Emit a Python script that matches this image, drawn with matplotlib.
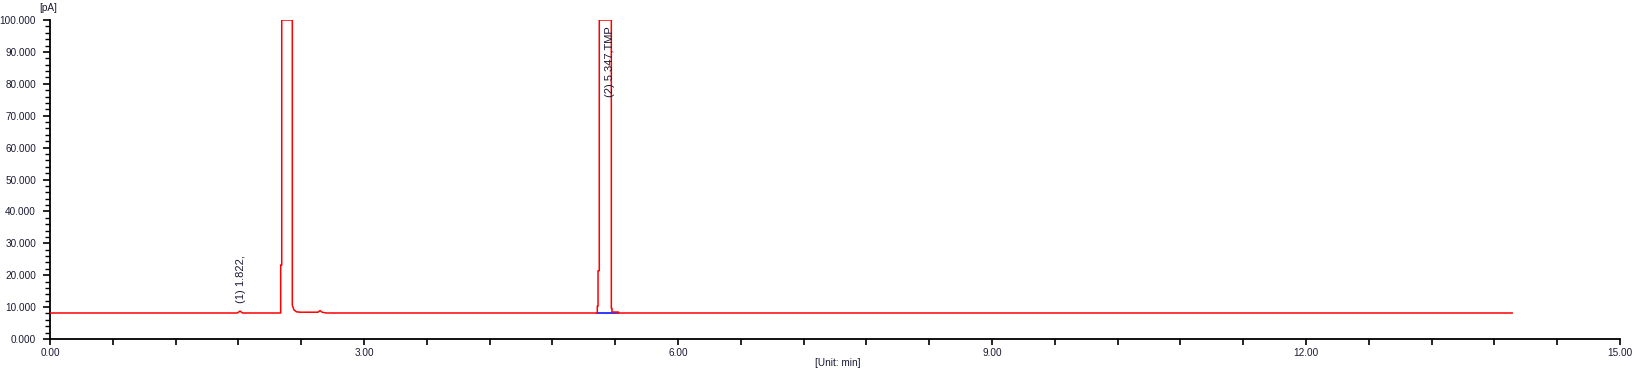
"""
Chromatogram (FID signal vs retention time)
"""
import numpy as np
import matplotlib.pyplot as plt
from matplotlib.ticker import MultipleLocator, FormatStrFormatter

plt.rcParams['font.family'] = ['Liberation Sans', 'DejaVu Sans']

# Detector trace [min], [pA] (peaks clipped at 100)
time_min = [0.00, 1.790, 1.815, 1.840, 2.204, 2.204, 2.214, 2.214, 2.315,
            2.315, 2.331, 2.357, 2.389, 2.560, 2.580, 2.600, 2.640, 5.229,
            5.229, 5.236, 5.236, 5.248, 5.248, 5.363, 5.363, 5.369, 5.369,
            5.430, 5.430, 13.97]
signal_pA = [8.15, 8.15, 8.75, 8.15, 8.15, 23.2, 23.2, 100.0, 100.0,
             10.6, 9.1, 8.5, 8.4, 8.4, 8.9, 8.4, 8.15, 8.15,
             10.3, 10.3, 21.4, 21.4, 100.0, 100.0, 9.6, 9.6, 8.45,
             8.45, 8.15, 8.15]

# Integration baseline of peak 2
base_t = [5.229, 5.430]
base_y = [8.15, 8.15]

# Peak labels
peak_t = [1.822, 5.347]
peak_lab_y = [11.3, 75.8]
peak_labels = ['(1) 1.822,', '(2) 5.347,TMP']

txt = '#1a1a33'

fig = plt.figure(figsize=(16.36, 3.74), dpi=100)
ax = fig.add_axes([50/1636, 1-339/374, 1570/1636, 319/374])

ax.plot(base_t, base_y, color='#0000ff', lw=1.1, zorder=2)
ax.plot(time_min, signal_pA, color='#ff0000', lw=1.1, zorder=3)

for t, y, s in zip(peak_t, peak_lab_y, peak_labels):
    ax.text(t, y, s, rotation=90, ha='center', va='bottom', fontsize=8, color=txt, zorder=4)

ax.set_xlim(0, 15)
ax.set_ylim(0, 100)
ax.xaxis.set_major_locator(MultipleLocator(3))
ax.xaxis.set_minor_locator(MultipleLocator(0.6))
ax.yaxis.set_major_locator(MultipleLocator(10))
ax.yaxis.set_minor_locator(MultipleLocator(2))
ax.xaxis.set_major_formatter(FormatStrFormatter('%.2f'))
ax.yaxis.set_major_formatter(FormatStrFormatter('%.3f'))

for s in ['top', 'right']:
    ax.spines[s].set_visible(False)
for s in ['left', 'bottom']:
    ax.spines[s].set_linewidth(1.3)

ax.tick_params(axis='y', which='major', direction='out', length=5, width=1.2, pad=5, labelsize=7.2, labelcolor=txt)
ax.tick_params(axis='y', which='minor', direction='out', length=3.5, width=1.0)
ax.tick_params(axis='x', which='both', direction='out', length=4, width=1.2, pad=2.5, labelsize=7.2, labelcolor=txt)

fig.text(48/1636, 1-8/374, '[pA]', ha='center', va='center', fontsize=7.2, color=txt)
fig.text(838/1636, 1-363/374, '[Unit: min]', ha='center', va='center', fontsize=7.2, color=txt)

fig.savefig('out.png', dpi=100)
